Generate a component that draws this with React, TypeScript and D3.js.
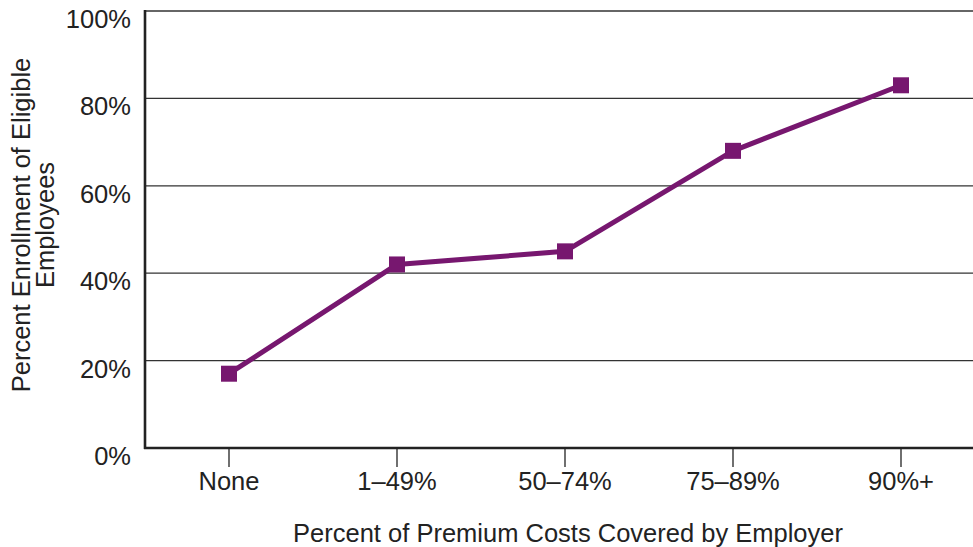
import React from "react";
import * as d3 from "d3";

const categories = ["None", "1\u201349%", "50\u201374%", "75\u201389%", "90%+"];
const enrollment = [17, 42, 45, 68, 83];
const yTicks = [0, 20, 40, 60, 80, 100];

const W = 973;
const H = 547;
const left = 145;
const top = 11;
const bottom = 448;
const right = 985;
const font = "Liberation Sans, Arial, Helvetica, sans-serif";
const purple = "#77176f";
const fs = 25.5;

export default function App() {
  const x = d3.scaleBand<string>().domain(categories).range([left, right]);
  const y = d3.scaleLinear().domain([0, 100]).range([bottom, top]);
  const cx = (c: string) => (x(c) as number) + x.bandwidth() / 2;
  const line = d3
    .line<number>()
    .x((_, i) => cx(categories[i]))
    .y((d) => y(d));

  return (
    <svg
      width={W}
      height={H}
      style={{ position: "absolute", left: 0, top: 0, background: "#fff" }}
      fontFamily={font}
    >
      {yTicks.map((t) => (
        <g key={t}>
          {t > 0 && (
            <line x1={left} x2={W} y1={y(t)} y2={y(t)} stroke="#333" strokeWidth={1.3} />
          )}
          <text x={131} y={y(t) + 17} textAnchor="end" fontSize={fs} fill="#222">
            {t}%
          </text>
        </g>
      ))}
      <line x1={left} x2={left} y1={top - 1} y2={bottom + 1} stroke="#222" strokeWidth={2.6} />
      <line x1={left - 1} x2={W} y1={bottom} y2={bottom} stroke="#222" strokeWidth={2.6} />
      {categories.map((c) => (
        <g key={c}>
          <line x1={cx(c)} x2={cx(c)} y1={bottom} y2={467} stroke="#222" strokeWidth={1.3} />
          <text x={cx(c)} y={490} textAnchor="middle" fontSize={fs} fill="#222">
            {c}
          </text>
        </g>
      ))}
      <text x={568} y={542} textAnchor="middle" fontSize={fs} fill="#222">
        Percent of Premium Costs Covered by Employer
      </text>
      <g transform="translate(22,225) rotate(-90)">
        <text x={0} y={8} textAnchor="middle" fontSize={fs} fill="#222">
          Percent Enrollment of Eligible
        </text>
        <text x={0} y={32} textAnchor="middle" fontSize={fs} fill="#222">
          Employees
        </text>
      </g>
      <path d={line(enrollment) || ""} fill="none" stroke={purple} strokeWidth={5} strokeLinejoin="round" />
      {enrollment.map((v, i) => (
        <rect
          key={i}
          x={cx(categories[i]) - 8}
          y={y(v) - 8}
          width={16}
          height={16}
          fill={purple}
        />
      ))}
    </svg>
  );
}
